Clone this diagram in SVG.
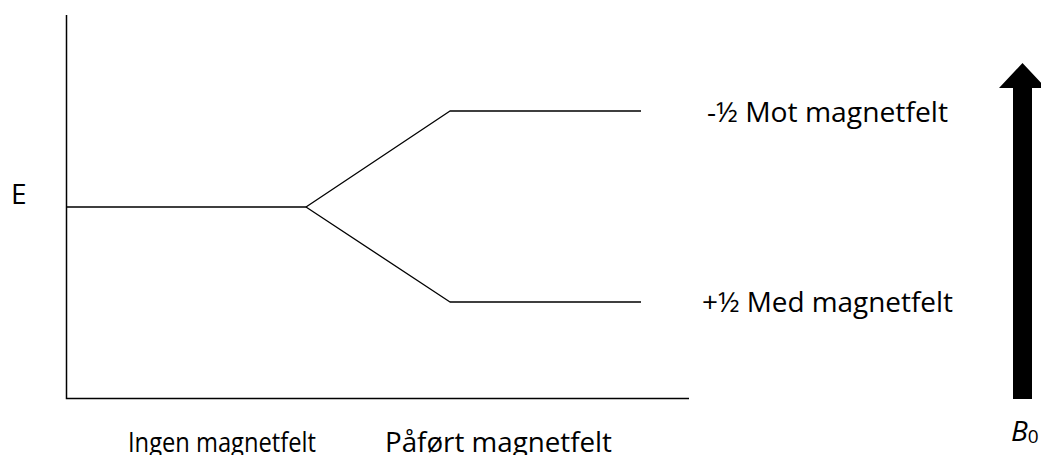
<svg xmlns="http://www.w3.org/2000/svg" width="1041" height="455" viewBox="0 0 1041 455">
  <style>
    .lbl { font-family: "Open Sans", "Noto Sans", sans-serif; font-size: 28px; fill: #000; }
    .axis { stroke: #000; stroke-width: 1.5; fill: none; }
    .lvl { stroke: #000; stroke-width: 1.3; fill: none; stroke-linejoin: round; }
  </style>
  <rect width="1041" height="455" fill="#fff"/>

  <!-- energy axes -->
  <g id="axes">
    <path class="axis" d="M66.5 15 V398.5 H689"/>
  </g>
  <g id="label-E">
    <text class="lbl" x="11" y="204">E</text>
  </g>

  <!-- energy levels: degenerate level splitting into two -->
  <g id="connectors">
    <path class="lvl" d="M66.5 207 H306 L450 111 H641"/>
    <path class="lvl" d="M306 207 L450 302 H641"/>
  </g>

  <g id="label-upper">
    <text class="lbl" x="707" y="122" textLength="241" lengthAdjust="spacingAndGlyphs">-½ Mot magnetfelt</text>
  </g>
  <g id="label-lower">
    <text class="lbl" x="702" y="312" textLength="251" lengthAdjust="spacingAndGlyphs">+½ Med magnetfelt</text>
  </g>
  <g id="label-none">
    <text class="lbl" x="128" y="452" font-size="24" textLength="188" lengthAdjust="spacingAndGlyphs">Ingen magnetfelt</text>
  </g>
  <g id="label-applied">
    <text class="lbl" x="385" y="452" font-size="27.5" textLength="227" lengthAdjust="spacingAndGlyphs">Påført magnetfelt</text>
  </g>

  <!-- field direction arrow -->
  <g id="field-arrow">
    <polygon points="1013,399 1013,88 999,88 1022.5,63 1046,88 1032,88 1032,399" fill="#000"/>
    <text class="lbl" x="1011" y="441" font-size="23" font-style="italic">B<tspan font-style="normal" font-size="19" dy="2">0</tspan></text>
  </g>
</svg>
